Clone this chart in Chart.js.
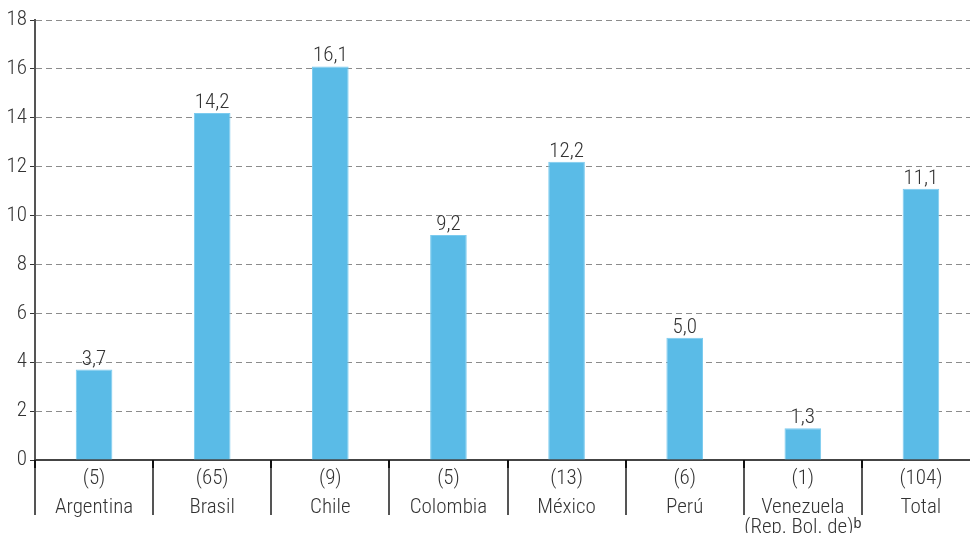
<!DOCTYPE html>
<html>
<head>
<meta charset="utf-8">
<script src="https://cdn.jsdelivr.net/npm/chart.js@4/dist/chart.umd.min.js"></script>
<style>
  body { margin: 0; background: #fff; overflow: hidden; }
  #wrap { width: 980px; height: 533px; }
</style>
</head>
<body>
<div id="wrap"><canvas id="barChart"></canvas></div>
<script>
const counts = ['(5)', '(65)', '(9)', '(5)', '(13)', '(6)', '(1)', '(104)'];
const countries = ['Argentina', 'Brasil', 'Chile', 'Colombia', 'México', 'Perú', ['Venezuela', '(Rep. Bol. de)ᵇ'], 'Total'];
const values = [3.7, 14.2, 16.1, 9.2, 12.2, 5.0, 1.3, 11.1];
const yTicks = [0, 2, 4, 6, 8, 10, 12, 14, 16, 18];

const FONT = "'Roboto Condensed', 'Roboto', sans-serif";
const TEXT = '#333333';

// vertical dividers between categories, below the x axis
const dividers = {
    id: 'dividers',
    afterDraw(chart) {
        const ctx = chart.ctx;
        const x = chart.scales.x;
        const area = chart.chartArea;
        const half = (x.getPixelForValue(1) - x.getPixelForValue(0)) / 2;
        ctx.save();
        ctx.lineWidth = 2;
        for (let i = 0; i < values.length; i++) {
            const px = Math.round(x.getPixelForValue(i) - half);
            ctx.strokeStyle = '#555';
            ctx.beginPath();
            ctx.moveTo(px, area.bottom);
            ctx.lineTo(px, 515);
            ctx.stroke();
            ctx.strokeStyle = '#111';
            ctx.beginPath();
            ctx.moveTo(px, area.bottom);
            ctx.lineTo(px, area.bottom + 8);
            ctx.stroke();
        }
        ctx.restore();
    }
};

// value labels above each bar
const valueLabels = {
    id: 'valueLabels',
    afterDatasetsDraw(chart) {
        const ctx = chart.ctx;
        const meta = chart.getDatasetMeta(0);
        ctx.save();
        ctx.font = '300 21px ' + FONT;
        ctx.fillStyle = TEXT;
        ctx.textAlign = 'center';
        ctx.textBaseline = 'alphabetic';
        meta.data.forEach((bar, i) => {
            ctx.fillText(values[i].toFixed(1).replace('.', ','), bar.x, bar.y - 5);
        });
        ctx.restore();
    }
};

new Chart(document.getElementById('barChart').getContext('2d'), {
    type: 'bar',
    data: {
        labels: counts,
        datasets: [{
            data: values,
            backgroundColor: '#5abbe7',
            borderColor: '#7ccbef',
            borderWidth: 1,
            barPercentage: 0.31,
            categoryPercentage: 1
        }]
    },
    options: {
        responsive: true,
        maintainAspectRatio: false,
        animation: false,
        layout: { padding: { top: 20, left: 0, right: 0, bottom: 0 } },
        plugins: {
            legend: { display: false },
            tooltip: { enabled: false }
        },
        scales: {
            y: {
                min: 0,
                max: 18,
                afterFit(scale) { scale.width = 35; },
                afterBuildTicks(scale) { scale.ticks = yTicks.map(v => ({ value: v })); },
                border: { display: true, color: '#555', width: 2, dash: [6, 4] },
                grid: {
                    color: '#8c8c8c',
                    lineWidth: 1,
                    tickLength: 5,
                    tickColor: '#333',
                    tickBorderDash: [],
                    drawTicks: true
                },
                ticks: {
                    padding: 3,
                    color: TEXT,
                    font: { family: FONT, size: 21, weight: 300 }
                }
            },
            x: {
                weight: 1,
                afterFit(scale) { scale.height = 31; },
                grid: { display: false, drawTicks: false },
                border: { display: true, color: '#444', width: 2 },
                ticks: {
                    padding: 6,
                    color: TEXT,
                    maxRotation: 0,
                    autoSkip: false,
                    font: { family: FONT, size: 21, weight: 300, lineHeight: '25px' }
                }
            },
            names: {
                type: 'category',
                position: 'bottom',
                weight: 2,
                labels: countries,
                offset: true,
                afterFit(scale) { scale.height = 42; },
                grid: { display: false, drawTicks: false },
                border: { display: false },
                ticks: {
                    padding: 7,
                    color: TEXT,
                    maxRotation: 0,
                    autoSkip: false,
                    font: { family: FONT, size: 21, weight: 300, lineHeight: '20px' }
                }
            }
        }
    },
    plugins: [dividers, valueLabels]
});
</script>
</body>
</html>
